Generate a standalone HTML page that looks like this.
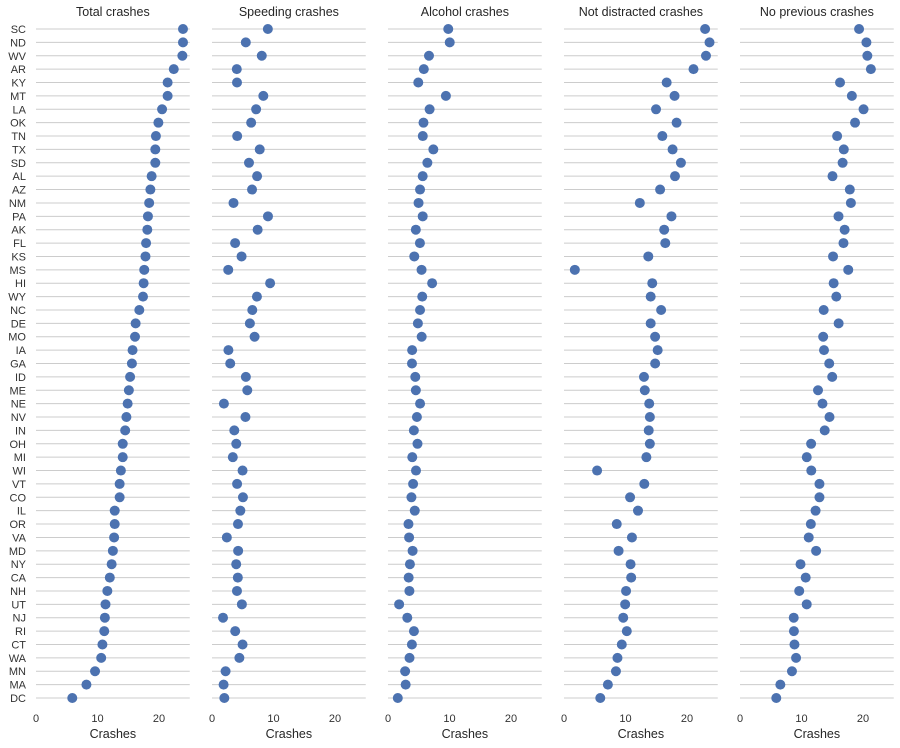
<!DOCTYPE html>
<html><head><meta charset="utf-8">
<style>
body{margin:0;background:#fff;}
svg{display:block;font-family:"Liberation Sans","DejaVu Sans",sans-serif;}
</style></head>
<body>
<svg id="chart" width="900" height="748" viewBox="0 0 900 748"></svg>
<script>
const states = ["SC","ND","WV","AR","KY","MT","LA","OK","TN","TX","SD","AL","AZ","NM","PA","AK","FL","KS","MS","HI","WY","NC","DE","MO","IA","GA","ID","ME","NE","NV","IN","OH","MI","WI","VT","CO","IL","OR","VA","MD","NY","CA","NH","UT","NJ","RI","CT","WA","MN","MA","DC"];
const total = [23.9,23.9,23.8,22.4,21.4,21.4,20.5,19.9,19.5,19.4,19.4,18.8,18.6,18.4,18.2,18.1,17.9,17.8,17.6,17.5,17.4,16.8,16.2,16.1,15.7,15.6,15.3,15.1,14.9,14.7,14.5,14.1,14.1,13.8,13.6,13.6,12.8,12.8,12.7,12.5,12.3,12.0,11.6,11.3,11.2,11.1,10.8,10.6,9.6,8.2,5.9];
const speeding = [9.082,5.497,8.092,4.032,4.066,8.346,7.175,6.368,4.095,7.76,6.014,7.332,6.51,3.496,9.1,7.421,3.759,4.806,2.64,9.45,7.308,6.552,6.156,6.923,2.669,2.964,5.508,5.738,1.937,5.439,3.625,3.948,3.384,4.968,4.08,5.032,4.608,4.224,2.413,4.25,3.936,4.2,4.06,4.859,1.792,3.774,4.968,4.452,2.208,1.886,2.006];
const alcohol = [9.799,10.038,6.664,5.824,4.922,9.416,6.765,5.771,5.655,7.372,6.402,5.64,5.208,4.968,5.642,4.525,5.191,4.272,5.456,7.175,5.568,5.208,4.86,5.474,3.925,3.9,4.437,4.53,5.215,4.704,4.205,4.794,3.948,4.554,4.08,3.808,4.352,3.328,3.429,4.0,3.567,3.36,3.48,1.808,3.136,4.218,3.888,3.498,2.784,2.87,1.593];
const notDistracted = [22.944,23.661,23.086,21.056,16.692,17.976,14.965,18.308,15.99,17.654,19.012,18.048,15.624,12.328,17.472,16.29,16.468,13.706,1.76,14.35,14.094,15.792,14.094,14.812,15.229,14.82,13.005,13.137,13.857,13.965,13.775,13.959,13.395,5.382,13.056,10.744,12.032,8.576,11.049,8.875,10.824,10.92,10.092,9.944,9.632,10.212,9.396,8.692,8.448,7.134,5.9];
const noPrevious = [19.359,20.554,20.706,21.28,16.264,18.19,20.09,18.706,15.795,16.878,16.684,15.04,17.856,18.032,16.016,17.014,16.826,15.13,17.6,15.225,15.66,13.608,16.038,13.524,13.659,14.508,14.994,12.684,13.41,14.553,13.775,11.562,10.857,11.592,12.92,12.92,12.288,11.52,11.176,12.375,9.84,10.68,9.628,10.848,8.736,8.769,8.856,9.116,8.448,6.56,5.9];
const titles = ["Total crashes","Speeding crashes","Alcohol crashes","Not distracted crashes","No previous crashes"];
const series = [total,speeding,alcohol,notDistracted,noPrevious];
const xTicks = [0,10,20];

const NS="http://www.w3.org/2000/svg";
const svg=document.getElementById('chart');
const x0s=[36,212,388,564,740], pw=153.75, xmax=25;
const yTop=29, yBot=698;
function yScale(i){return yTop+(yBot-yTop)*i/(states.length-1);}
function mk(tag,attrs,parent){const e=document.createElementNS(NS,tag);for(const k in attrs)e.setAttribute(k,attrs[k]);(parent||svg).appendChild(e);return e;}

// y labels
states.forEach((s,i)=>{
  const t=mk('text',{x:26,y:yScale(i)+4,'text-anchor':'end','font-size':11,fill:'#333'});
  
  
  t.textContent=s;
});

series.forEach((vals,p)=>{
  const x0=x0s[p];
  const xs=v=>x0+v/xmax*pw;
  const g=mk('g',{});
  
  
  states.forEach((s,i)=>{
    const l=mk('line',{x1:x0,x2:x0+pw,y1:yScale(i),y2:yScale(i),stroke:'#cccccc','stroke-width':1},g);
    
    
  });
  const t=mk('text',{x:x0+pw/2,y:16,'text-anchor':'middle','font-size':12.5,fill:'#262626'},g);
  
  
  t.textContent=titles[p];
  xTicks.forEach(v=>{
    const tt=mk('text',{x:xs(v),y:722,'text-anchor':'middle','font-size':11,fill:'#333'},g);
    
    
    tt.textContent=v;
  });
  const xl=mk('text',{x:x0+pw/2,y:738,'text-anchor':'middle','font-size':12.5,fill:'#262626'},g);
  
  
  xl.textContent='Crashes';
  vals.forEach((v,i)=>{
    const c=mk('circle',{cx:xs(v),cy:yScale(i),r:5,fill:'#4c72b0'},g);
    
    
  });
});
</script>
</body></html>
